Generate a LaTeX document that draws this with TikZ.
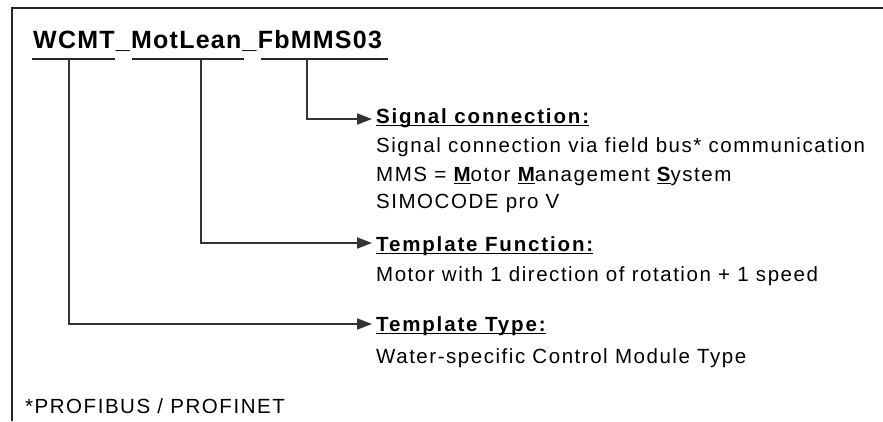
\documentclass[tikz,border=0pt]{standalone}
\usepackage{fontspec}
\setmainfont{Liberation Sans}
\newfontfamily\bodyfont[LetterSpace=7.5,WordSpace=1.0]{Liberation Sans}
\newfontfamily\headfont[LetterSpace=9]{Liberation Sans}
\newfontfamily\titlefont[LetterSpace=5]{Liberation Sans}
\usetikzlibrary{arrows.meta}
% bold letter with an underline drawn at a fixed depth
\newcommand\ulmark[1]{\setbox0\hbox{#1}\rlap{\rule[-3pt]{\wd0}{1.5pt}}\box0}
\tikzset{
  txt/.style={anchor=base west, inner sep=0pt, text=black,
    font=\bodyfont\fontsize{20.5}{24}\selectfont},
  head/.style={txt, font=\headfont\bfseries\fontsize{20.5}{24}\selectfont},
  ttl/.style={anchor=base west, inner sep=0pt, text=black,
    font=\titlefont\bfseries\fontsize{25}{30}\selectfont},
  frame/.style={line width=2.2pt, draw=black!85},
  seg/.style={line width=2.5pt, draw=black!85},
  conn/.style={line width=1.8pt, draw=black!80,
    -{Triangle[length=15pt,width=11pt]}, shorten >=4pt},
}
\begin{document}
\begin{tikzpicture}[x=1pt,y=-1pt]
\useasboundingbox (0,0) rectangle (883,421);
\fill[white] (0,0) rectangle (883,421);
% open frame: left and top edges
\draw[frame] (12,421) -- (12,8) -- (883,8);

% block name and its three parts
\node[ttl] (title) at (33,48) {WCMT\_MotLean\_FbMMS03};
\draw[seg] (32,59) -- (115,59);
\draw[seg] (132,59) -- (244,59);
\draw[seg] (261,59) -- (388,59);
\coordinate (s1) at (69,59);
\coordinate (s2) at (201,59);
\coordinate (s3) at (307,59);

% signal connection
\node[head] (h1) at (376,123) {\ulmark{Signal connection:}};
\node[txt] (b11) at (376,152) {Signal connection via field bus* communication};
\node[txt] (b12) at (376,181) {MMS = \ulmark{\bfseries M}otor \ulmark{\bfseries M}anagement \ulmark{\bfseries S}ystem};
\node[txt] (b13) at (376,208) {SIMOCODE pro V};

% template function
\node[head] (h2) at (376,251) {\ulmark{Template Function:}};
\node[txt] (b21) at (376,281) {Motor with 1 direction of rotation + 1 speed};

% template type
\node[head] (h3) at (376,331) {\ulmark{Template Type:}};
\node[txt] (b31) at (376,363) {Water-specific Control Module Type};

% footnote
\node[txt] (note) at (25,413) {*PROFIBUS / PROFINET};

% connectors from the name parts to their explanations
\draw[conn] (s3) |- ([yshift=4pt]h1.base west);
\draw[conn] (s2) |- ([yshift=8pt]h2.base west);
\draw[conn] (s1) |- ([yshift=7pt]h3.base west);
\end{tikzpicture}
\end{document}
